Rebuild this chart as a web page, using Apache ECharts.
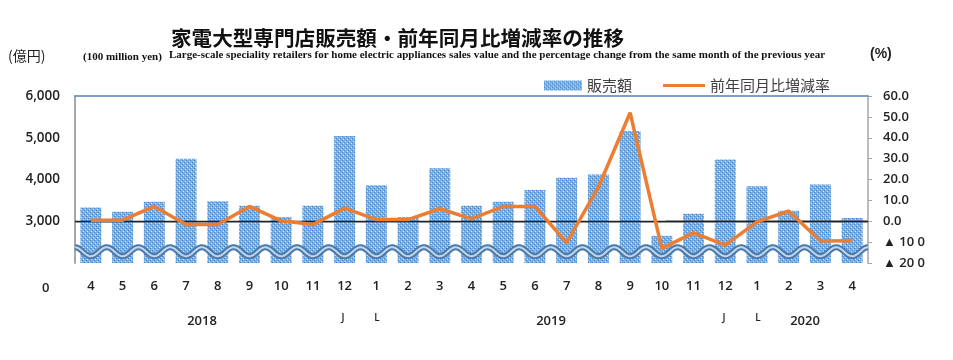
<!DOCTYPE html>
<html>
<head>
<meta charset="utf-8">
<script src="https://cdn.jsdelivr.net/npm/echarts@6/dist/echarts.min.js"></script>
<style>html,body{margin:0;padding:0;background:#fff}#c{width:953px;height:360px}</style>
</head>
<body>
<div id="c"></div>
<script>
// ---- data ----
const months = ['4','5','6','7','8','9','10','11','12','1','2','3','4','5','6','7','8','9','10','11','12','1','2','3','4'];
const sales = [3330,3230,3470,4500,3480,3370,3100,3370,5040,3860,3100,4270,3370,3470,3750,4040,4120,5160,2650,3180,4480,3840,3250,3880,3080];
const rate = [0.5,0.5,7.1,-1.6,-1.6,7.1,0.2,-1.6,6.3,0.8,0.8,6.0,1.1,7.1,7.1,-10.3,16.3,52.0,-13.0,-5.6,-11.4,-0.3,4.9,-9.5,-9.4];
const leftTicks = [3000,4000,5000,6000];
const yearLabels = [{t:'2018',x:202},{t:'2019',x:551},{t:'2020',x:805}];

// ---- pattern ----
function makePattern(){
  const c = document.createElement('canvas');
  c.width = 4; c.height = 4;
  const g = c.getContext('2d');
  g.fillStyle = '#79aee2'; g.fillRect(0,0,4,4);
  g.fillStyle = '#dbe9f7'; g.fillRect(1,1,1,1); g.fillRect(3,3,1,1);
  g.fillStyle = '#4585cb'; g.fillRect(0,2,1,1); g.fillRect(2,0,1,1);
  return c;
}
const pat = {image: makePattern(), repeat: 'repeat'};

const chart = echarts.init(document.getElementById('c'), null, {renderer:'canvas'});
const numFont = "'Open Sans', 'Liberation Sans', sans-serif";
const cjk = "'Noto Sans CJK JP', sans-serif";

const gridL = 75, gridR = 85, gridT = 96, gridB = 97;

const option = {
  animation: false,
  grid: {left: gridL, right: gridR, top: gridT, bottom: gridB, containLabel: false},
  legend: [{
    top: 73, left: 539, itemWidth: 38, itemHeight: 10, itemGap: 4,
    textStyle: {fontFamily: cjk, fontSize: 15, color: '#404040'},
    data: [{name:'販売額', icon:'rect'}]
  },{
    top: 73, left: 658, itemWidth: 42, itemHeight: 3,
    textStyle: {fontFamily: cjk, fontSize: 15, color: '#404040'},
    data: [{name:'前年同月比増減率', icon:'rect'}]
  }],
  xAxis: [{
    type: 'category', data: months, position: 'bottom',
    axisLine: {show: true, lineStyle: {color: '#9aa6b4', width: 1.5}},
    axisTick: {show: false},
    axisLabel: {margin: 17, fontFamily: numFont, fontSize: 13, fontWeight: 600, color: '#222'}
  },{
    type: 'category', data: months, position: 'top',
    axisLine: {show: true, onZero: false, lineStyle: {color: '#4f81bd', width: 1.5}},
    axisTick: {show: false}, axisLabel: {show: false}
  }],
  yAxis: [{
    type: 'value', min: 2000, max: 6000, interval: 1000, position: 'left',
    axisLine: {show: true, lineStyle: {color: '#a6a6a6', width: 2}},
    axisTick: {show: false},
    splitLine: {show: false},
    axisLabel: {margin: 15, fontFamily: numFont, fontSize: 13.5, fontWeight: 600, color: '#222',
      formatter: v => leftTicks.indexOf(v) >= 0 ? v.toLocaleString('en-US') : ''}
  },{
    type: 'value', min: -20, max: 60, interval: 10, position: 'right',
    axisLine: {show: true, lineStyle: {color: '#a6a6a6', width: 1.5}},
    axisTick: {show: true, length: 4, lineStyle: {color: '#a6a6a6'}},
    splitLine: {show: false},
    axisLabel: {margin: 15, fontFamily: numFont, fontSize: 13, fontWeight: 600, color: '#222',
      formatter: v => v < 0 ? '▲ ' + (-v) + ' 0' : v.toFixed(1)}
  }],
  series: [{
    name: '販売額', type: 'bar', data: sales, yAxisIndex: 0, barWidth: '66%', z: 2,
    itemStyle: {color: pat},
    markLine: {
      silent: true, symbol: 'none', label: {show: false},
      lineStyle: {color: '#222', width: 1.3, type: 'solid'},
      data: [{yAxis: 3000}]
    }
  },{
    name: '前年同月比増減率', type: 'line', data: rate, yAxisIndex: 1, z: 6,
    symbol: 'none', lineStyle: {color: '#ED7D31', width: 3.5}, itemStyle: {color: '#ED7D31'}
  }]
};
chart.setOption(option);

// ---- texts & axis-break wave ----
const c0 = chart.convertToPixel({xAxisIndex: 0}, 0);
const c1 = chart.convertToPixel({xAxisIndex: 0}, 1);
const step = c1 - c0;
const xL = gridL, xR = 953 - gridR;
const yc = chart.convertToPixel({yAxisIndex: 0}, 2270);
const amp = 4.5;
const pts = [];
for (let x = xL; x <= xR; x += 1) {
  pts.push([x, yc + amp * Math.cos(2 * Math.PI * (x - c0) / step)]);
}
const y3000 = chart.convertToPixel({yAxisIndex: 0}, 3000);

const graphics = [
  {type:'polyline', z: 4, shape:{points: pts}, style:{stroke:'#4a7aab', lineWidth: 6, fill: null}},
  {type:'polyline', z: 5, shape:{points: pts}, style:{stroke:'#c3d6ea', lineWidth: 2, fill: null}},
  {type:'text', z: 10, x: 171, y: 28, style:{text:'家電大型専門店販売額・前年同月比増減率の推移', font: "bold 20.6px 'Noto Sans CJK JP'", fill:'#111'}},
  {type:'text', z: 10, x: 83, y: 52, style:{text:'(100 million yen)', font: "bold 11px 'Liberation Serif'", fill:'#111'}},
  {type:'text', z: 10, x: 169, y: 50, style:{text:'Large-scale speciality retailers for home electric appliances sales value and the percentage change from the same month of the previous year', font: "bold 11px 'Liberation Serif'", fill:'#111'}},
  {type:'text', z: 10, x: 8, y: 49, style:{text:'(億円)', font: "14px 'Noto Sans CJK JP'", fill:'#222'}},
  {type:'text', z: 10, x: 870, y: 47, style:{text:'(%)', font: "bold 14px 'Liberation Sans'", fill:'#222'}},
  {type:'text', z: 10, x: 42, y: 282, style:{text:'0', font: "600 13px 'Open Sans'", fill:'#222'}}
];
yearLabels.forEach(o => graphics.push({type:'text', z: 10, x: o.x, y: 321, style:{text:o.t, font:"600 13px 'Open Sans'", fill:'#222', align:'center', verticalAlign:'middle'}}));
[[343,'J'],[377,'L'],[724,'J'],[758,'L']].forEach(([x,t]) => graphics.push({type:'text', z:10, x:x, y:318, style:{text:t, font:"600 10px 'Open Sans'", fill:'#222', align:'center', verticalAlign:'middle'}}));
// grey right part of the zero line
graphics.push({type:'line', z: 3, shape:{x1: 666, y1: y3000, x2: xR, y2: y3000}, style:{stroke:'#777', lineWidth: 1.3}});
chart.setOption({graphic: graphics});
</script>
</body>
</html>
